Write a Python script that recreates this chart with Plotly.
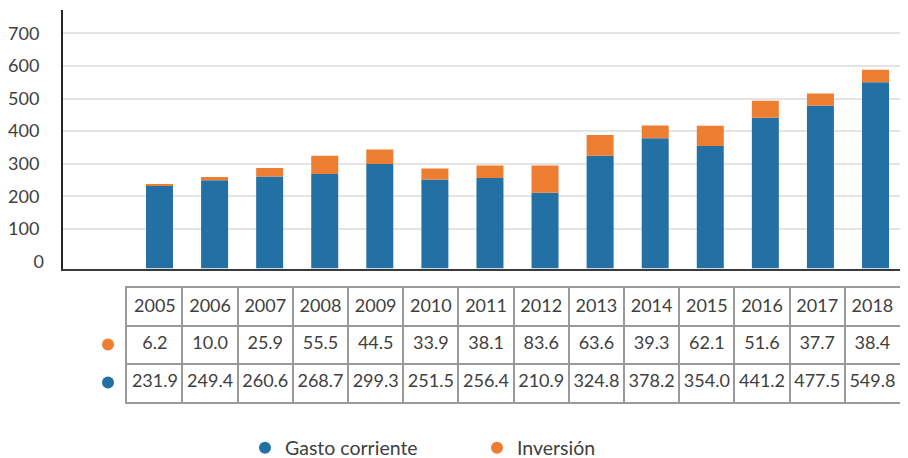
import plotly.graph_objects as go

years = ["2005", "2006", "2007", "2008", "2009", "2010", "2011", "2012",
         "2013", "2014", "2015", "2016", "2017", "2018"]
inversion = [6.2, 10.0, 25.9, 55.5, 44.5, 33.9, 38.1, 83.6, 63.6, 39.3, 62.1, 51.6, 37.7, 38.4]
gasto = [231.9, 249.4, 260.6, 268.7, 299.3, 251.5, 256.4, 210.9, 324.8, 378.2, 354.0, 441.2, 477.5, 549.8]
y_ticks = [0, 100, 200, 300, 400, 500, 600, 700]

BLUE = "#2370A4"
ORANGE = "#ED7D31"
TXT = "#404040"
GRID_T = "#9a9a9a"
FONT = "Lato"
W, H = 908, 458
OFF = 8  # page body margin
Y_MIN, Y_MAX = -21.5, 771.6   # the category axis sits slightly below zero


def px_x(v):
    return (v - OFF) / W


def px_y(v):
    return 1 - (v - OFF) / H


xpos = list(range(len(years)))

fig = go.Figure()
fig.add_trace(go.Bar(x=xpos, y=[g - Y_MIN for g in gasto], base=Y_MIN,
                     marker_color=BLUE, marker_line_width=0, width=0.49,
                     name="Gasto corriente", showlegend=False, hoverinfo="skip"))
# stacked on top of gasto; drawn on the overlaid axis (same scale) that carries the "0" label
fig.add_trace(go.Bar(x=xpos, y=inversion, base=gasto, yaxis="y4",
                     marker_color=ORANGE, marker_line_width=0, width=0.49,
                     name="Inversión", showlegend=False, hoverinfo="skip"))

# data table under the chart (own axes: columns = years, rows = series)
n = len(years)
tx, ty, tt = [], [], []
for i in range(n):
    tx += [i + 0.5, i + 0.5, i + 0.5]
    ty += [2.5, 1.5, 0.5]
    tt += [years[i], f"{inversion[i]:.1f}", f"{gasto[i]:.1f}"]
fig.add_trace(go.Scatter(x=tx, y=ty, text=tt, mode="text", textposition="middle center",
                         textfont=dict(family=FONT, size=18, color=TXT),
                         xaxis="x3", yaxis="y3", showlegend=False, hoverinfo="skip"))

# table row markers
fig.add_trace(go.Scatter(x=[0.5, 0.5], y=[1.5, 0.5], mode="markers",
                         marker=dict(color=[ORANGE, BLUE], size=12),
                         xaxis="x2", yaxis="y2", showlegend=False, hoverinfo="skip"))

# legend entries
fig.add_trace(go.Scatter(x=[None], y=[None], mode="markers", name="Gasto corriente",
                         marker=dict(color=BLUE, size=12), xaxis="x2", yaxis="y2"))
fig.add_trace(go.Scatter(x=[None], y=[None], mode="markers", name="Inversión",
                         marker=dict(color=ORANGE, size=12), xaxis="x2", yaxis="y2"))

ydom = [px_y(268.5), px_y(10)]
fig.update_layout(
    width=W, height=H,
    margin=dict(l=0, r=0, t=0, b=0, pad=0, autoexpand=False),
    paper_bgcolor="white", plot_bgcolor="white",
    barmode="overlay",
    font=dict(family=FONT, size=18, color=TXT),
    xaxis=dict(domain=[px_x(63), px_x(908)], range=[-1.752, 13.59], automargin=False,
               showticklabels=False, showgrid=False, zeroline=False,
               showline=True, linecolor="#3a3a3a", linewidth=2, ticks=""),
    # gridlines (no gridline at zero) with labels 100..700
    yaxis=dict(domain=ydom, range=[Y_MIN, Y_MAX], automargin=False,
               tickvals=y_ticks[1:], showgrid=True, gridcolor="#e4e4e4", gridwidth=1.5,
               zeroline=False, showline=True, linecolor="#262626", linewidth=2,
               ticks="", ticklabelstandoff=18,
               tickfont=dict(family=FONT, size=18, color=TXT)),
    # the "0" label only
    yaxis4=dict(domain=ydom, range=[Y_MIN, Y_MAX], overlaying="y", anchor="x", side="left",
                automargin=False, tickvals=y_ticks[:1], showgrid=False, zeroline=False,
                showline=False, ticks="", ticklabelstandoff=18,
                tickfont=dict(family=FONT, size=18, color=TXT)),
    xaxis2=dict(domain=[px_x(100), px_x(116)], range=[0, 1], visible=False,
                anchor="y2", automargin=False),
    yaxis2=dict(domain=[px_y(401.7), px_y(325.3)], range=[0, 2], visible=False,
                anchor="x2", automargin=False),
    xaxis3=dict(domain=[px_x(127.3), px_x(900)], range=[0, n], anchor="y3",
                automargin=False, tickvals=list(range(n + 1)), showticklabels=False,
                ticks="", showgrid=True, gridcolor=GRID_T, gridwidth=1.5,
                zeroline=False, showline=True, mirror=True, linecolor=GRID_T, linewidth=1.5,
                fixedrange=True),
    yaxis3=dict(domain=[px_y(401.7), px_y(288.3)], range=[0, 3], anchor="x3",
                automargin=False, tickvals=[0, 1, 2, 3], showticklabels=False,
                ticks="", showgrid=True, gridcolor=GRID_T, gridwidth=1.5,
                zeroline=False, showline=True, mirror=True, linecolor=GRID_T, linewidth=1.5,
                fixedrange=True),
    legend=dict(orientation="h", traceorder="normal",
                x=px_x(245), xanchor="left", y=px_y(448), yanchor="middle",
                font=dict(family=FONT, size=19.5, color=TXT), entrywidth=187,
                bgcolor="rgba(0,0,0,0)"),
    showlegend=True,
)

fig.write_html("out.html")
